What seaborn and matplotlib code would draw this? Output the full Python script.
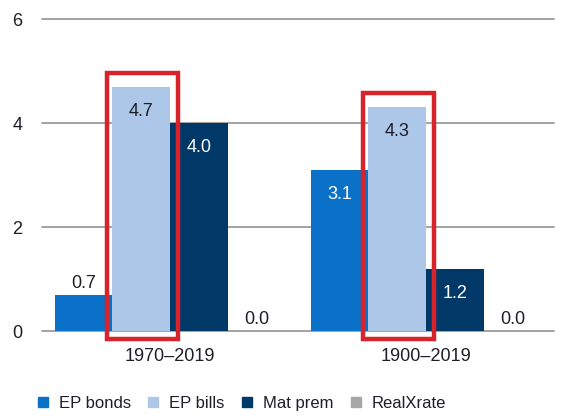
import pandas as pd
import seaborn as sns
import matplotlib
matplotlib.use("Agg")
import matplotlib.pyplot as plt
from matplotlib.patches import Rectangle
from matplotlib.lines import Line2D

periods = ["1970–2019", "1900–2019"]
series = ["EP bonds", "EP bills", "Mat prem", "RealXrate"]
ep_bonds = [0.7, 3.1]
ep_bills = [4.7, 4.3]
mat_prem = [4.0, 1.2]
real_xrate = [0.0, 0.0]
highlight_series = "EP bills"

colors = ["#0A70C8", "#ADC7E8", "#003868", "#A6A6A6"]
dark_series = {"EP bonds", "Mat prem"}
text_dark = "#1E1E28"

rows = []
for s, vals in zip(series, [ep_bonds, ep_bills, mat_prem, real_xrate]):
    for p, v in zip(periods, vals):
        rows.append({"period": p, "series": s, "value": v})
df = pd.DataFrame(rows)

sns.set_theme(style="white")
plt.rcParams['font.family'] = ['Liberation Sans', 'DejaVu Sans']

W, H = 566, 419
fig = plt.figure(figsize=(W / 100, H / 100), dpi=100)
ax = fig.add_axes([42 / W, 88 / H, 512 / W, 312 / H])

sns.barplot(data=df, x="period", y="value", hue="series", order=periods,
            hue_order=series, palette=colors, width=0.9, gap=0, saturation=1,
            errorbar=None, ax=ax, legend=False, linewidth=0, edgecolor="none")

ax.set_ylim(0, 6)
ax.set_xlim(-0.5, 1.5)
ax.set_yticks([0, 2, 4, 6])
ax.set_yticklabels(["0", "2", "4", "6"])
ax.set_xlabel("")
ax.set_ylabel("")
for sp in ax.spines.values():
    sp.set_visible(False)
ax.set_axisbelow(True)
ax.grid(axis="y", color="#A3A3A3", linewidth=1.4)
for gl in ax.yaxis.get_gridlines():
    gl.set_clip_on(False)
ax.tick_params(axis="both", length=0, labelsize=13, labelcolor=text_dark)
ax.tick_params(axis="y", pad=14)
ax.tick_params(axis="x", pad=12)

# value labels
for s, cont in zip(series, ax.containers):
    for bar in cont:
        v = bar.get_height()
        xc = bar.get_x() + bar.get_width() / 2
        if v >= 1:
            col = "white" if s in dark_series else text_dark
            ax.annotate(f"{v:.1f}", (xc, v), xytext=(0, -11.5),
                        textcoords="offset points", ha="center", va="top",
                        fontsize=13, color=col)
        else:
            ax.annotate(f"{v:.1f}", (xc, v), xytext=(0, 2),
                        textcoords="offset points", ha="center", va="bottom",
                        fontsize=13, color=text_dark)

# highlight frames around the highlighted series
hi = series.index(highlight_series)
for bar in ax.containers[hi]:
    v = bar.get_height()
    pad = 0.02
    rect = Rectangle((bar.get_x() - pad, -0.15), bar.get_width() + 2 * pad + 0.01,
                     v + 0.27 + 0.15, fill=False, edgecolor="#D9232B",
                     linewidth=3.2, clip_on=False, zorder=5)
    ax.add_patch(rect)

handles = [Line2D([], [], marker="s", linestyle="", markersize=6.5,
                  markerfacecolor=c, markeredgecolor=c) for c in colors]
fig.legend(handles, series, loc="center left", bbox_to_anchor=(28 / W, 1 - 403 / H),
           ncol=4, frameon=False, fontsize=12, handlelength=0.8, handletextpad=0.55,
           columnspacing=0.95, borderpad=0, labelcolor=text_dark)

fig.savefig("out.png", dpi=100)
